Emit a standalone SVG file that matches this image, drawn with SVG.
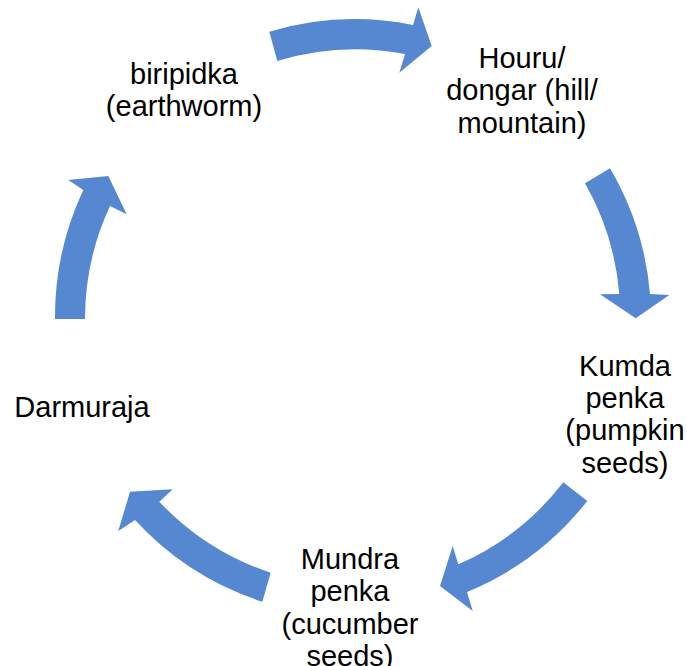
<svg xmlns="http://www.w3.org/2000/svg" width="687" height="666" viewBox="0 0 687 666">
<style>
  .lbl { font-family: "Liberation Sans", Arial, sans-serif; font-size: 29px; fill: #000; text-anchor: middle; }
  .arr { fill: #5588D1; stroke: none; }
</style>
<rect width="687" height="666" fill="#ffffff"/>
<g id="connectors">
  <path class="arr" d="M 269.3 31.7 A 298 298 0 0 1 413 25 L 418.3 7.3 L 431.7 46 L 399.3 72.7 L 405 54 A 268 268 0 0 0 277.3 61 Z"/>
  <path class="arr" d="M 610 168.3 A 298 298 0 0 1 650 294 L 669.3 295 L 635.7 318.3 L 600 294.3 L 619.3 294 A 268 268 0 0 0 585 183.3 Z"/>
  <path class="arr" d="M 587.3 501 A 298 298 0 0 1 467 592 L 472.7 611 L 440 586 L 452.7 546 L 458.3 564.3 A 268 268 0 0 0 563.3 482.3 Z"/>
  <path class="arr" d="M 262.3 601.7 A 298 298 0 0 1 135 520 L 118.3 531 L 130 491.7 L 172.7 489.3 L 159.3 501.7 A 268 268 0 0 0 270.7 572.7 Z"/>
  <path class="arr" d="M 55 319 A 298 298 0 0 1 83.3 190 L 68.3 180 L 108.3 176 L 126.7 214.3 L 110 206 A 268 268 0 0 0 85 319 Z"/>
</g>
<g id="node-houru">
  <text class="lbl" x="522" y="67.5">Houru/</text>
  <text class="lbl" x="522" y="100">dongar (hill/</text>
  <text class="lbl" x="522" y="132.5">mountain)</text>
</g>
<g id="node-kumda">
  <text class="lbl" x="625" y="375.7">Kumda</text>
  <text class="lbl" x="625" y="408">penka</text>
  <text class="lbl" x="625" y="440.3">(pumpkin</text>
  <text class="lbl" x="625" y="472.6">seeds)</text>
</g>
<g id="node-mundra">
  <text class="lbl" x="350" y="569">Mundra</text>
  <text class="lbl" x="350" y="601.3">penka</text>
  <text class="lbl" x="350" y="633.6">(cucumber</text>
  <text class="lbl" x="350" y="665.9">seeds)</text>
</g>
<g id="node-darmuraja">
  <text class="lbl" x="82" y="417.3">Darmuraja</text>
</g>
<g id="node-biripidka">
  <text class="lbl" x="184" y="84.3">biripidka</text>
  <text class="lbl" x="184" y="116.3">(earthworm)</text>
</g>
</svg>
